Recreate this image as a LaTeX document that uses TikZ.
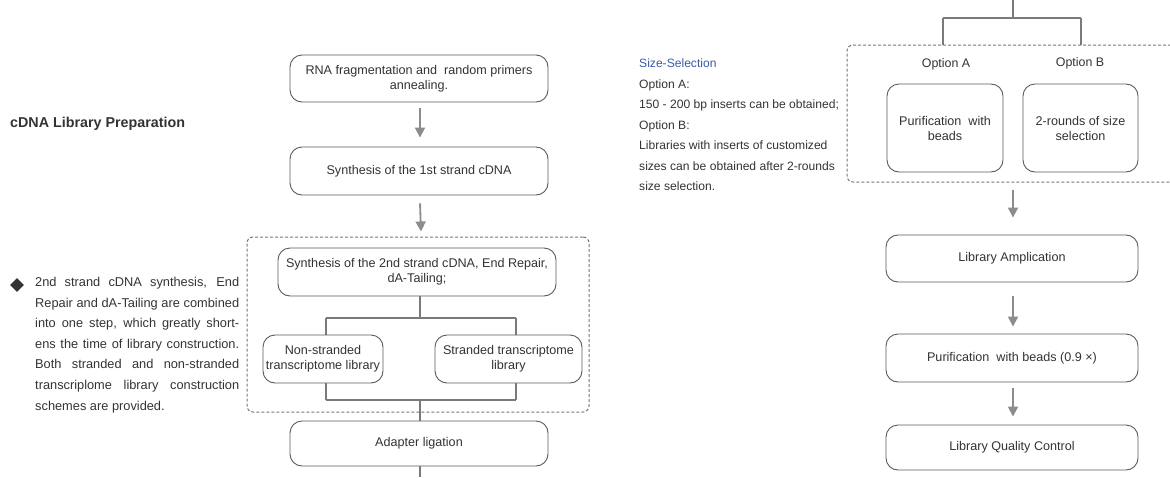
\documentclass[tikz,border=0pt]{standalone}
\usepackage{fontspec}
\setmainfont{Liberation Sans}
\usetikzlibrary{arrows.meta,shapes.geometric,backgrounds}
\definecolor{txt}{HTML}{333333}
\definecolor{boxc}{HTML}{5A5A5A}
\definecolor{arrc}{HTML}{8C8C8C}
\definecolor{connc}{HTML}{7A7A7A}
\definecolor{dashc}{HTML}{777777}
\definecolor{titleblue}{HTML}{3A5BA8}
\begin{document}
\begin{tikzpicture}[x=1pt,y=-1pt,
  box/.style={draw=boxc, line width=0.9pt, rounded corners=12pt, fill=white, align=center, text=txt, font=\fontsize{12.6}{15}\selectfont, inner sep=1pt},
  arr/.style={draw=arrc, line width=1.8pt, -{Triangle[length=10pt,width=10pt]}},
  conn/.style={draw=connc, line width=1.1pt},
  grp/.style={draw=dashc, line width=1pt, rounded corners=6pt, dash pattern=on 3pt off 2pt, inner sep=0pt},
  para/.style={align=left, text=txt, inner sep=0pt, anchor=north west}]
\useasboundingbox (0,0) rectangle (1170,477);

% ---------- left column texts ----------
\node[anchor=west, inner sep=0pt, text=txt, font=\fontsize{14.3}{16}\selectfont\bfseries] (title) at (10,124) {cDNA Library Preparation};
\node[diamond, fill=txt, inner sep=0pt, minimum size=14pt] (bullet) at (17,285) {};
\node[text=txt, inner sep=0pt, anchor=north west, text width=204pt, align=justify, font=\fontsize{12.8}{20.6}\selectfont] (note) at (35,277)
  {2nd strand cDNA synthesis, End\linebreak
   Repair and dA-Tailing are combined\linebreak
   into one step, which greatly short-\linebreak
   ens the time of library construction.\linebreak
   Both stranded and non-stranded\linebreak
   transcriplome library construction\linebreak
   schemes are provided.};

% ---------- left flowchart ----------
\node[grp, minimum width=342pt, minimum height=175pt] (g1) at (418,324.5) {};
\node[box, minimum width=258pt, minimum height=47pt] (b1) at (419,78.5) {RNA fragmentation and \ random primers\\annealing.};
\node[box, minimum width=258pt, minimum height=48pt] (b2) at (419,171) {Synthesis of the 1st strand cDNA};
\node[box, minimum width=278pt, minimum height=48pt] (b3) at (417,272) {Synthesis of the 2nd strand cDNA, End Repair,\\dA-Tailing;};
\node[box, minimum width=120pt, minimum height=48pt] (b4) at (323,359) {Non-stranded\\transcriptome library};
\node[box, minimum width=147pt, minimum height=48pt] (b5) at (508.5,359) {Stranded transcriptome\\library};
\node[box, minimum width=258pt, minimum height=45pt] (b6) at (419,443.5) {Adapter ligation};

\coordinate (sA) at (420,318);
\coordinate (lA) at (326,318);
\coordinate (rA) at (516,318);
\coordinate (lB) at (326,400);
\coordinate (rB) at (516,400);
\coordinate (mB) at (420,400);
\coordinate (endL) at (420,477);

\begin{pgfonlayer}{background}
  \draw[conn] (b3.south -| sA) -- (sA);
  \draw[conn] (lA) -- (rA);
  \draw[conn] (lA) -- (lB);
  \draw[conn] (rA) -- (rB);
  \draw[conn] (lB) -- (rB);
  \draw[conn] (mB) -- (b6.north -| mB);
\end{pgfonlayer}
\draw[conn] (b6.south -| mB) -- (endL);

\draw[arr] ([xshift=1pt,yshift=-6pt]b1.south) -- ([xshift=1pt,yshift=9pt]b2.north);
\draw[arr] ([xshift=1pt,yshift=-8pt]b2.south) -- ([xshift=3pt,yshift=5pt]g1.north);

% ---------- right side text ----------
\node[para, font=\fontsize{12.1}{20.5}\selectfont] (sel) at (639,59)
  {\textcolor{titleblue}{Size-Selection}\\
   Option A:\\
   150 - 200 bp inserts can be obtained;\\
   Option B:\\
   Libraries with inserts of customized\\
   sizes can be obtained after 2-rounds\\
   size selection.};

% ---------- right flowchart ----------
\node[grp, minimum width=340pt, minimum height=137pt] (g2) at (1017,113.5) {};
\node[inner sep=0pt, text=txt, font=\fontsize{12.4}{15}\selectfont] (oA) at (946,64) {Option A};
\node[inner sep=0pt, text=txt, font=\fontsize{12.4}{15}\selectfont] (oB) at (1080,63) {Option B};
\node[box, minimum width=116pt, minimum height=88pt] (bA) at (945,128) {Purification \ with\\beads};
\node[box, minimum width=115pt, minimum height=88pt] (bB) at (1080.5,128) {2-rounds of size\\selection};
\node[box, minimum width=252pt, minimum height=47pt] (b7) at (1012,258.5) {Library Amplication};
\node[box, minimum width=252pt, minimum height=48pt] (b8) at (1012,358) {Purification \ with beads (0.9 ×)};
\node[box, minimum width=252pt, minimum height=45pt] (b9) at (1012,447.5) {Library Quality Control};

\coordinate (topR) at (1013,0);
\coordinate (sR) at (1013,18);
\coordinate (lR) at (943,18);
\coordinate (rR) at (1081,18);
\draw[conn] (topR) -- (sR);
\draw[conn] (lR) -- (rR);
\draw[conn] (lR) -- (lR |- g2.north);
\draw[conn] (rR) -- (rR |- g2.north);

\draw[arr] ([xshift=1pt,yshift=-7pt]b8.south |- g2.south) -- ([xshift=1pt,yshift=17pt]b7.north);
\draw[arr] ([xshift=1pt,yshift=-14pt]b7.south) -- ([xshift=1pt,yshift=7pt]b8.north);
\draw[arr] ([xshift=1pt,yshift=-6pt]b8.south) -- ([xshift=1pt,yshift=8pt]b9.north);
\end{tikzpicture}
\end{document}
